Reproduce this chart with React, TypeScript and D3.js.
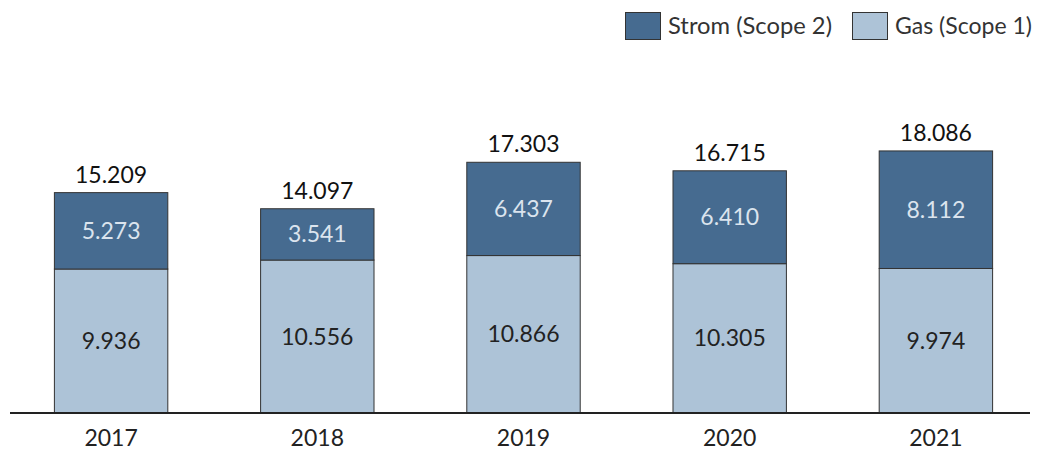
import React from "react";
import * as d3 from "d3";

const years = ["2017", "2018", "2019", "2020", "2021"];
const gas = [9936, 10556, 10866, 10305, 9974];
const strom = [5273, 3541, 6437, 6410, 8112];
const totals = [15209, 14097, 17303, 16715, 18086];

const W = 1038;
const H = 450;
const DARK = "#466b90";
const LIGHT = "#adc3d7";
const FONT = "Lato, 'Open Sans', sans-serif";

const fmt = (v: number) => d3.format(",")(v).replace(/,/g, ".");

export default function App() {
  const x = d3.scaleBand<string>().domain(years).range([8, 1039]).paddingInner(0.45).paddingOuter(0.225);
  const y = d3.scaleLinear().domain([0, 20000]).range([413, 123.2]);
  const bw = x.bandwidth();

  return (
    <svg width={W} height={H} style={{ position: "absolute", left: 0, top: 0, fontFamily: FONT }}>
      {years.map((yr, i) => {
        const x0 = x(yr)!;
        const cx = x0 + bw / 2;
        const gTop = y(gas[i]);
        const sTop = y(gas[i] + strom[i]);
        return (
          <g key={yr}>
            <rect x={x0} y={gTop} width={bw} height={y(0) - gTop} fill={LIGHT} stroke="#333" strokeWidth={1} />
            <rect x={x0} y={sTop} width={bw} height={gTop - sTop} fill={DARK} stroke="#333" strokeWidth={1} />
            <text x={cx} y={(gTop + y(0)) / 2} dy="0.35em" textAnchor="middle" fontSize={23} fill="#222">
              {fmt(gas[i])}
            </text>
            <text x={cx} y={(sTop + gTop) / 2} dy="0.35em" textAnchor="middle" fontSize={23} fill="#dbe4ee">
              {fmt(strom[i])}
            </text>
            <text x={cx} y={sTop - 10} textAnchor="middle" fontSize={23} fill="#111">
              {fmt(totals[i])}
            </text>
            <text x={cx} y={446} textAnchor="middle" fontSize={23} fill="#222">
              {yr}
            </text>
          </g>
        );
      })}
      <line x1={10} x2={1030} y1={y(0)} y2={y(0)} stroke="#222" strokeWidth={2} />
      <g>
        <rect x={625.5} y={12.5} width={35} height={27} fill={DARK} stroke="#333" />
        <text x={668} y={34} fontSize={23.5} fill="#333" textLength={164} lengthAdjust="spacingAndGlyphs">Strom (Scope 2)</text>
        <rect x={852.5} y={12.5} width={35} height={27} fill={LIGHT} stroke="#333" />
        <text x={895} y={34} fontSize={23.5} fill="#333" textLength={137} lengthAdjust="spacingAndGlyphs">Gas (Scope 1)</text>
      </g>
    </svg>
  );
}
